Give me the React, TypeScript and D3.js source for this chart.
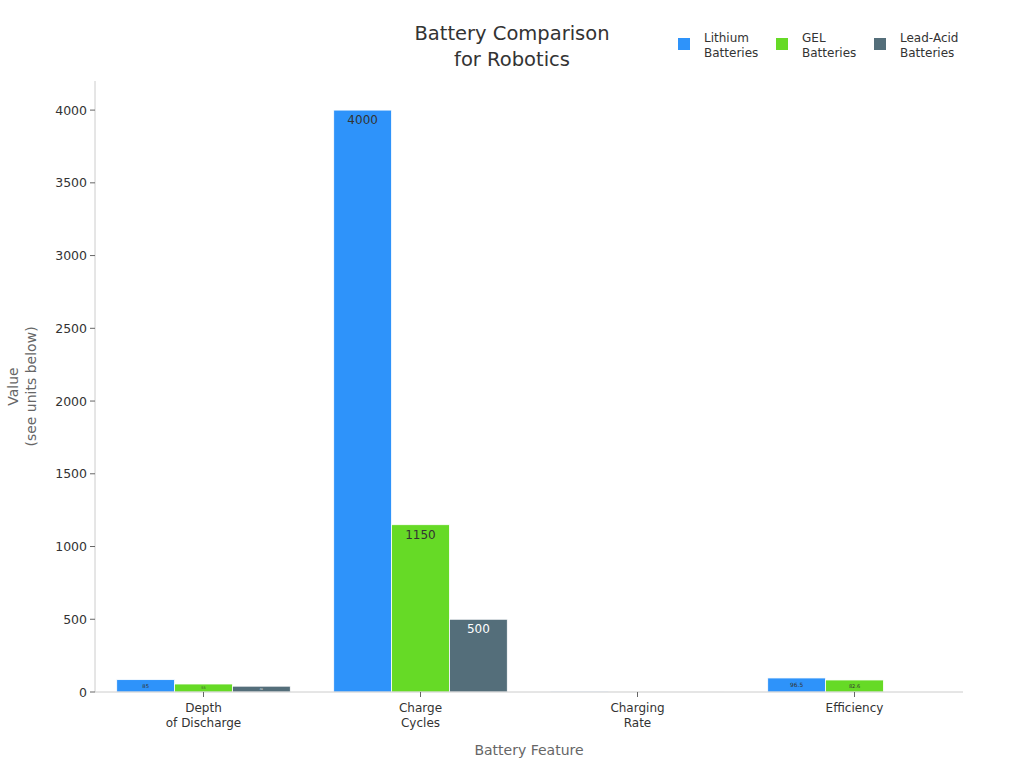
import React from "react";
import * as d3 from "d3";

const categories = ["Depth\nof Discharge", "Charge\nCycles", "Charging\nRate", "Efficiency"];
const seriesNames = ["Lithium\nBatteries", "GEL\nBatteries", "Lead-Acid\nBatteries"];
const lithium = [85, 4000, 1, 96.5];
const gel = [55, 1150, 0.2, 82.6];
const leadAcid = [40, 500, 0.1, 0];
const seriesValues = [lithium, gel, leadAcid];
const colors = ["#2E93FA", "#66DA26", "#546E7A"];
const labelColors = ["#333333", "#333333", "#ffffff"];
const yTicks = [0, 500, 1000, 1500, 2000, 2500, 3000, 3500, 4000];

const W = 1024, H = 768;
const left = 95, right = 963, top = 81, bottom = 692;
const font = "DejaVu Sans, sans-serif";

export default function App() {
  const x = d3.scaleBand<number>().domain(d3.range(categories.length)).range([left, right]).paddingInner(0.2).paddingOuter(0.1);
  const xs = d3.scaleBand<number>().domain(d3.range(seriesNames.length)).range([0, x.bandwidth()]);
  const y = d3.scaleLinear().domain([0, 4200]).range([bottom, top]);

  return (
    <svg width={W} height={H} style={{ position: "absolute", left: 0, top: 0, background: "#fff" }} fontFamily={font}>
      {/* title */}
      <text x={512} y={40} textAnchor="middle" fontSize={19.5} fill="#333">Battery Comparison</text>
      <text x={512} y={66} textAnchor="middle" fontSize={19.5} fill="#333">for Robotics</text>

      {/* legend */}
      {seriesNames.map((s, i) => {
        const lx = 678 + i * 98;
        const parts = s.split("\n");
        return (
          <g key={s}>
            <rect x={lx} y={38} width={12} height={12} fill={colors[i]} />
            <text x={lx + 26} y={38} fontSize={12} fill="#333" dominantBaseline="central">{parts[0]}</text>
            <text x={lx + 26} y={52.5} fontSize={12} fill="#333" dominantBaseline="central">{parts[1]}</text>
          </g>
        );
      })}

      {/* y axis */}
      <line x1={left} x2={left} y1={top} y2={bottom} stroke="#ccc" />
      {yTicks.map((t) => (
        <g key={t}>
          <line x1={left - 5} x2={left} y1={y(t)} y2={y(t)} stroke="#666" />
          <text x={left - 8} y={y(t)} textAnchor="end" dominantBaseline="central" fontSize={12.5} fill="#333">{t}</text>
        </g>
      ))}
      <g transform={`translate(13,${(top + bottom) / 2}) rotate(-90)`}>
        <text x={0} y={0} textAnchor="middle" fontSize={14} fill="#666" dominantBaseline="central">Value</text>
        <text x={0} y={18} textAnchor="middle" fontSize={14} fill="#666" dominantBaseline="central">(see units below)</text>
      </g>

      {/* bars */}
      {categories.map((c, ci) => (
        <g key={c} transform={`translate(${x(ci)},0)`}>
          {seriesValues.map((vals, si) => {
            const v = vals[ci];
            if (!v) return null;
            const yt = y(v);
            const h = bottom - yt;
            const fs = Math.min(12, h * 0.42);
            return (
              <g key={si}>
                <rect x={xs(si)} y={yt} width={xs.bandwidth()} height={h} fill={colors[si]} stroke="#fff" strokeWidth={0.8} />
                {fs >= 2 && (
                  <text x={(xs(si) as number) + xs.bandwidth() / 2} y={yt + Math.min(10, h / 2)} textAnchor="middle" dominantBaseline="central" fontSize={fs} fill={labelColors[si]}>{v}</text>
                )}
              </g>
            );
          })}
        </g>
      ))}

      {/* x axis */}
      <line x1={left} x2={right} y1={bottom} y2={bottom} stroke="#ccc" />
      {categories.map((c, ci) => {
        const cx = (x(ci) as number) + x.bandwidth() / 2;
        const parts = c.split("\n");
        return (
          <g key={c}>
            <line x1={cx} x2={cx} y1={bottom} y2={bottom + 5} stroke="#666" />
            {parts.map((p, pi) => (
              <text key={pi} x={cx} y={bottom + 16 + pi * 15} textAnchor="middle" dominantBaseline="central" fontSize={12} fill="#333">{p}</text>
            ))}
          </g>
        );
      })}
      <text x={(left + right) / 2} y={750} textAnchor="middle" dominantBaseline="central" fontSize={14} fill="#666">Battery Feature</text>
    </svg>
  );
}
